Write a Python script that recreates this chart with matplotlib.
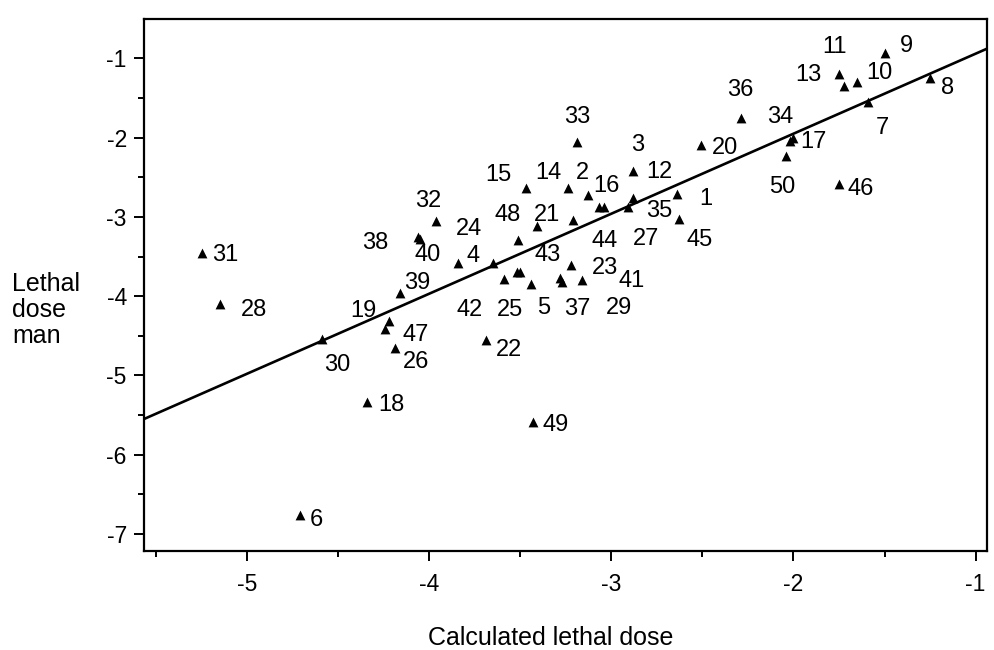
import numpy as np
import matplotlib.pyplot as plt

plt.rcParams['font.family'] = ['Liberation Sans', 'DejaVu Sans']

# --- data ---
labels = list(range(1, 51))
calc_dose = [-2.64, -3.13, -2.88, -3.84, -3.44, -4.71, -1.59, -1.25, -1.50, -1.65,
             -1.75, -2.88, -1.72, -3.24, -3.47, -3.04, -2.00, -4.34, -4.22, -2.51,
             -3.41, -3.69, -3.22, -3.65, -3.52, -4.19, -3.07, -5.15, -3.27, -4.59,
             -5.25, -3.96, -3.19, -2.02, -2.91, -2.29, -3.28, -4.06, -4.16, -4.05,
             -3.16, -3.59, -3.50, -3.21, -2.63, -1.75, -4.24, -3.51, -3.43, -2.04]
man_dose = [-2.71, -2.72, -2.42, -3.58, -3.85, -6.76, -1.55, -1.25, -0.93, -1.30,
            -1.20, -2.76, -1.35, -2.64, -2.63, -2.88, -2.01, -5.34, -4.31, -2.09,
            -3.12, -4.55, -3.61, -3.58, -3.70, -4.66, -2.88, -4.10, -3.82, -4.54,
            -3.46, -3.05, -2.06, -2.04, -2.88, -1.75, -3.77, -3.25, -3.96, -3.28,
            -3.80, -3.78, -3.70, -3.04, -3.03, -2.58, -4.42, -3.29, -5.59, -2.23]

# fitted line shown on the chart
slope = 1.01
intercept = 0.07

# where each number sits relative to its triangle (pixels, right / up)
label_offsets = [(29, -4), (-5, 23), (4, 27), (15, 8), (13, -23), (17, -4), (14, -25),
                 (18, -9), (22, 8), (22, 10), (-4, 28), (26, 27), (-36, 12), (-19, 16),
                 (-27, 14), (2, 22), (20, -3), (24, -2), (-26, 11), (24, -2), (10, 12),
                 (23, -9), (34, -2), (-24, 35), (-7, -37), (21, -13), (48, -31), (34, -5),
                 (57, -25), (15, -25), (24, -1), (-8, 21), (1, 26), (-10, 25), (32, -3),
                 (0, 29), (17, -30), (-43, -5), (17, 11), (8, -15), (49, 0), (-34, -30),
                 (27, 18), (32, -20), (21, -20), (22, -4), (30, -5), (-11, 26), (23, -2),
                 (-4, -30)]

fig = plt.figure(figsize=(9.94, 6.5), dpi=100)
ax = fig.add_axes([0.145, 0.152, 0.848, 0.819])

ax.scatter(calc_dose, man_dose, marker='^', s=50, color='black', linewidths=0, zorder=3)

xlim = (-5.565, -0.937)
xl = np.array(xlim)
ax.plot(xl, slope * xl + intercept, color='black', linewidth=1.9, zorder=2)

for lab, x, y, off in zip(labels, calc_dose, man_dose, label_offsets):
    ax.annotate(str(lab), (x, y), xytext=(off[0], off[1] - 1), textcoords='offset pixels',
                ha='center', va='center', fontsize=17)

ax.set_xlim(xlim)
ax.set_ylim(-7.22, -0.5)
ax.set_xticks([-5, -4, -3, -2, -1])
ax.set_xticklabels(['-5', '-4', '-3', '-2', '-1'])
ax.set_yticks([-7, -6, -5, -4, -3, -2, -1])
ax.set_yticklabels(['-7', '-6', '-5', '-4', '-3', '-2', '-1'])
ax.set_xticks(np.arange(-5.5, -1.0, 1.0), minor=True)
ax.set_yticks(np.arange(-6.5, -0.9, 1.0), minor=True)
ax.tick_params(axis='both', which='major', labelsize=16.5, length=7.5, width=1.4, direction='out')
ax.tick_params(axis='both', which='minor', length=4, width=1.4, direction='out')
ax.tick_params(axis='x', which='major', pad=8)
ax.tick_params(axis='y', which='major', pad=5)
for sp in ax.spines.values():
    sp.set_linewidth(1.6)

fig.text(12 / 994, 1 - 310 / 650, "Lethal\ndose\nman", ha='left', va='center',
         fontsize=18, linespacing=1.1)
fig.text(551 / 994, 1 - 638 / 650, "Calculated lethal dose", ha='center', va='center',
         fontsize=18)

plt.savefig("out.png", dpi=100)
